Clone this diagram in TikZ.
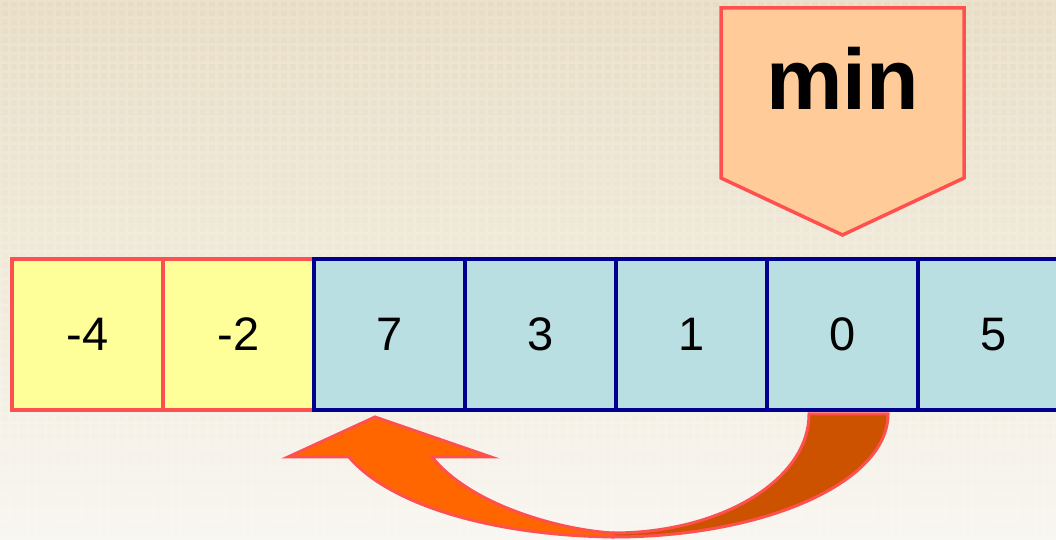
\documentclass[tikz,border=0pt]{standalone}
\usepackage{fontspec}
\setsansfont{Liberation Sans}
\definecolor{SelEdge}{HTML}{FF5050}
\definecolor{SelMinFill}{HTML}{FFCC99}
\definecolor{SelDoneFill}{HTML}{FFFF99}
\definecolor{SelTodoFill}{HTML}{B9DFE3}
\definecolor{SelTodoStroke}{HTML}{000090}
\definecolor{SelSwapFront}{HTML}{FF6600}
\definecolor{SelSwapBack}{HTML}{CC5200}
\definecolor{SelBgTop}{HTML}{E8DDC4}
\definecolor{SelBgMid}{HTML}{EFE9DA}
\definecolor{SelBgBottom}{HTML}{F8F6F0}

\begin{document}
\begin{tikzpicture}[x=1pt,y=1pt,font=\sffamily,
    donecell/.style={draw=SelEdge,fill=SelDoneFill,line width=4pt,
      minimum width=151pt,minimum height=151pt,inner sep=0pt,
      font=\sffamily\fontsize{47}{47}\selectfont},
    todocell/.style={donecell,draw=SelTodoStroke,fill=SelTodoFill},
    swappart/.style={draw=SelEdge,line width=3pt,line join=miter}]
  \clip (0,0) rectangle (1056,540);
  \shade[top color=SelBgTop,middle color=SelBgMid,bottom color=SelBgBottom]
    (0,0) rectangle (1056,540);
  \draw[white,opacity=0.15,line width=3pt,step=9pt] (0,0) grid (1056,540);

  % sorted part
  \node[donecell] (c1) at (87.5,205.5) {-4};
  \node[donecell] (c2) at (238.5,205.5) {-2};
  % unsorted part
  \node[todocell] (c3) at (389.5,205.5) {7};
  \node[todocell] (c4) at (540.5,205.5) {3};
  \node[todocell] (c5) at (691.5,205.5) {1};
  \node[todocell] (c6) at (842.5,205.5) {0};
  \node[todocell] (c7) at (993.5,205.5) {5};

  % min marker over c6
  \draw[draw=SelEdge,fill=SelMinFill,line width=3.5pt]
    (721,532) -- (964,532) -- (964,362) -- (842.5,305) -- (721,362) -- cycle;
  \node[anchor=base,font=\sffamily\bfseries\fontsize{86}{86}\selectfont]
    (minlbl) at (842.5,430) {min};

  % swap arrow from c6 back to c3
  \draw[swappart,fill=SelSwapBack]
    (809,126) .. controls (809,60) and (721,7) .. (613,7)
    -- (613,3) .. controls (765,3) and (888,58) .. (888,126) -- cycle;
  \draw[swappart,fill=SelSwapFront]
    (613,3) .. controls (480,5) and (385,40) .. (349,83)
    -- (288,83) -- (375,123) -- (491,83) -- (432,83)
    .. controls (470,35) and (560,10) .. (613,7) -- cycle;
\end{tikzpicture}
\end{document}
